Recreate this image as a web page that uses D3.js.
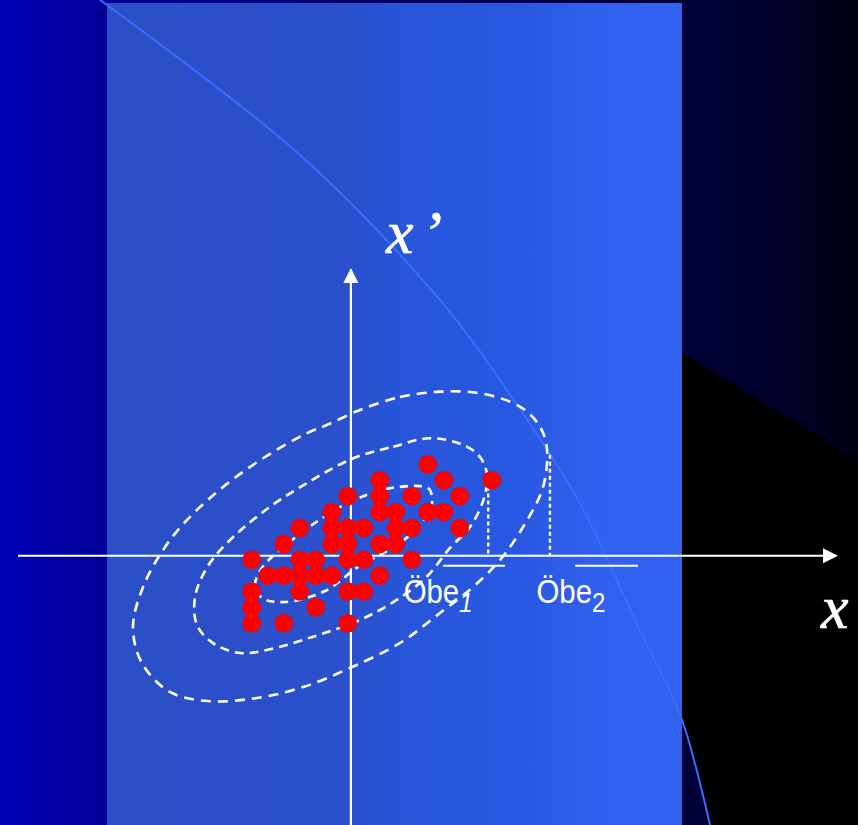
<!DOCTYPE html>
<html>
<head>
<meta charset="utf-8">
<script src="https://cdn.jsdelivr.net/npm/d3@7"></script>
<style>
  html, body { margin: 0; padding: 0; background: #000; }
  svg { display: block; }
</style>
</head>
<body>
<div id="chart"></div>
<script>
// ---- data (grid units: one unit per sample spacing) ----
const pointsX = [12, 9, 13, 16, 7, 9, 11, 14, 6, 9, 10, 12, 13, 4, 6, 7, 8, 10, 11, 14,
                 3, 6, 7, 9, 10, 1, 4, 5, 7, 8, 11, 2, 3, 4, 5, 6, 9, 1, 4, 7, 8, 1, 5, 1, 3, 7];
const pointsY = [11, 10, 10, 10, 9, 9, 9, 9, 8, 8, 8, 8, 8, 7, 7, 7, 7, 7, 7, 7,
                 6, 6, 6, 6, 6, 5, 5, 5, 5, 5, 5, 4, 4, 4, 4, 4, 4, 3, 3, 3, 3, 2, 2, 1, 1, 1];

// density contours, outer to inner
const outerContour = [
  [7.77, 14.42], [10.27, 15.23], [12.77, 15.57], [15.08, 15.5], [17.14, 14.94], [18.21, 14.31],
  [19.02, 13.36], [19.44, 12.11], [19.21, 9.57], [17.96, 7.06], [16.52, 4.98], [14.83, 3.28],
  [12.77, 1.65], [10.27, -0.24], [7.14, -1.81], [4.21, -3.01], [1.33, -3.7], [-1.79, -3.89],
  [-4.11, -3.32], [-5.86, -1.5], [-6.42, 0.77], [-5.79, 3.28], [-4.54, 5.61], [-3.04, 7.5],
  [-0.79, 9.57], [1.71, 11.38], [4.44, 12.95], [5.69, 13.47]
];
const middleContour = [
  [7.35, 11.38], [9.85, 12.11], [12.14, 12.64], [14.23, 12.21], [15.27, 11.46], [15.71, 10.33],
  [15.48, 8.75], [14.64, 7.06], [13.39, 5.74], [11.94, 3.93], [10.06, 2.47], [7.77, 1.21],
  [4.85, 0.16], [1.94, -0.68], [0.27, -0.87], [-1.4, -0.26], [-2.42, 0.89], [-2.54, 2.67],
  [-1.81, 4.48], [-0.56, 6.03], [1.73, 8.02], [4.44, 9.81]
];
const innerContour = [
  [10.14, 9.57], [12.02, 9.51], [12.27, 8.94], [12.21, 8.31], [11.52, 7.18], [10.27, 6.05],
  [9.02, 5.3], [7.64, 4.54], [5.58, 3.03], [3.08, 2.34], [1.64, 2.59], [1.21, 3.41],
  [1.64, 4.48], [3.52, 6.24], [6.52, 8.31], [8.52, 9.19]
];

// upper bounds (Öbe) projected onto the x axis
const boundX = [15.78, 19.64];
const boundTop = [9.6, 11.6];
const boundBarStart = [12.96, 21.21];
const boundBarEnd = [16.83, 25.14];
const boundBarLevel = 4.62;
const boundLabel = ["Öbe", "Öbe"];
const boundIndex = ["1", "2"];
const boundLabelX = [10.5, 18.8];
const boundLabelY = 2.28;

// where the two axes cross
const originX = 7.2;
const originY = 5.25;

// ---- layout ----
const W = 858, H = 825;
const panel = { x: 107, y: 3, w: 575, h: 822 };

const x = d3.scaleLinear().domain([1, 16]).range([251.7, 491.7]);
const y = d3.scaleLinear().domain([1, 11]).range([623.3, 464.3]);

const svg = d3.select("#chart").append("svg")
  .attr("width", W).attr("height", H);

const defs = svg.append("defs");

const bgGrad = defs.append("linearGradient").attr("id", "bgGrad")
  .attr("x1", 0).attr("x2", 1).attr("y1", 0).attr("y2", 0);
[[0, "#0000ba"], [0.06, "#0000a8"], [0.125, "#000098"], [0.4, "#000070"],
 [0.8, "#00003a"], [0.9, "#00002a"], [1, "#000014"]]
  .forEach(([o, c]) => bgGrad.append("stop").attr("offset", o).attr("stop-color", c));

const panelGrad = defs.append("linearGradient").attr("id", "panelGrad")
  .attr("x1", 0).attr("x2", 1).attr("y1", 0).attr("y2", 0);
[[0, "#2a4fc6"], [0.42, "#2a50cc"], [0.5, "#2855d8"], [0.7, "#2858e2"],
 [0.82, "#2f5fea"], [0.84, "#3060ee"], [1, "#3163f0"]]
  .forEach(([o, c]) => panelGrad.append("stop").attr("offset", o).attr("stop-color", c));

// background
svg.append("rect").attr("width", W).attr("height", H).attr("fill", "url(#bgGrad)");

// dark wedge on the right
svg.append("path")
  .attr("d", d3.line()([[681, 352], [W, 461], [W, H], [710, H], [681, 717]]) + "Z")
  .attr("fill", "#000000");

// light panel
svg.append("rect")
  .attr("x", panel.x).attr("y", panel.y).attr("width", panel.w).attr("height", panel.h)
  .attr("fill", "url(#panelGrad)");

// sweeping arc
svg.append("path")
  .attr("d", d3.line().curve(d3.curveCatmullRom)([
    [100, 0], [300, 155], [440, 300], [500, 380], [578, 500], [641, 633], [681, 717], [710, H]
  ]))
  .attr("fill", "none").attr("stroke", "#3a6cff").attr("stroke-width", 2);

// contours
const contourLine = d3.line()
  .x(d => x(d[0])).y(d => y(d[1]))
  .curve(d3.curveCatmullRomClosed.alpha(0.5));

const contours = [
  { pts: outerContour, dash: "10 7" },
  { pts: middleContour, dash: "9 6" },
  { pts: innerContour, dash: "8 6" }
];
svg.append("g").selectAll("path").data(contours).join("path")
  .attr("d", d => contourLine(d.pts))
  .attr("fill", "none")
  .attr("stroke", "#ffffff")
  .attr("stroke-width", 2.6)
  .attr("stroke-dasharray", d => d.dash);

// projections of the bounds
const ox = x(originX), oy = y(originY);
svg.append("g").selectAll("line").data(boundX).join("line")
  .attr("x1", d => x(d)).attr("x2", d => x(d))
  .attr("y1", (d, i) => y(boundTop[i])).attr("y2", oy)
  .attr("stroke", "#ffffff").attr("stroke-width", 2.4)
  .attr("stroke-dasharray", "4 3");

svg.append("g").selectAll("line").data(boundBarStart).join("line")
  .attr("x1", d => x(d)).attr("x2", (d, i) => x(boundBarEnd[i]))
  .attr("y1", y(boundBarLevel)).attr("y2", y(boundBarLevel))
  .attr("stroke", "#ffffff").attr("stroke-width", 2.2);

// axes with arrowheads
const axes = svg.append("g").attr("fill", "#ffffff").attr("stroke", "#ffffff");
const xEnd = 838, xStart = 18, yEnd = 268, yStart = H, head = 15, half = 7.5;
axes.append("line").attr("x1", xStart).attr("x2", xEnd - head)
  .attr("y1", oy).attr("y2", oy).attr("stroke-width", 2.2);
axes.append("path").attr("stroke", "none")
  .attr("d", `M${xEnd},${oy}L${xEnd - head},${oy - half}L${xEnd - head},${oy + half}Z`);
axes.append("line").attr("x1", ox).attr("x2", ox)
  .attr("y1", yStart).attr("y2", yEnd + head).attr("stroke-width", 2.2);
axes.append("path").attr("stroke", "none")
  .attr("d", `M${ox},${yEnd}L${ox - half},${yEnd + head}L${ox + half},${yEnd + head}Z`);

// samples
svg.append("g").selectAll("circle").data(pointsX).join("circle")
  .attr("cx", d => x(d))
  .attr("cy", (d, i) => y(pointsY[i]))
  .attr("r", 9.3)
  .attr("fill", "#ff0000");

// bound labels (slightly condensed sans)
const lbl = svg.append("g")
  .attr("fill", "#ffffff")
  .attr("font-family", "'Liberation Sans', Arial, sans-serif")
  .attr("font-size", 33);
boundLabel.forEach((t, i) => {
  const txt = lbl.append("text")
    .attr("transform", `translate(${x(boundLabelX[i])},${y(boundLabelY)}) scale(0.89,1)`);
  txt.append("tspan").text(t);
  txt.append("tspan").attr("dy", 9).attr("font-size", 27)
    .attr("font-style", i === 0 ? "italic" : "normal").text(boundIndex[i]);
});

// axis names
const axName = svg.append("g").attr("fill", "#ffffff").attr("stroke", "#ffffff")
  .attr("stroke-width", 0.7)
  .attr("font-family", "'Liberation Serif', 'Times New Roman', serif")
  .attr("font-style", "italic").attr("font-size", 62);
const yName = axName.append("text").attr("x", 386).attr("y", 253);
yName.append("tspan").text("x");
yName.append("tspan").attr("dx", 8).text("’");
axName.append("text").attr("x", 821).attr("y", 628).text("x");
</script>
</body>
</html>
